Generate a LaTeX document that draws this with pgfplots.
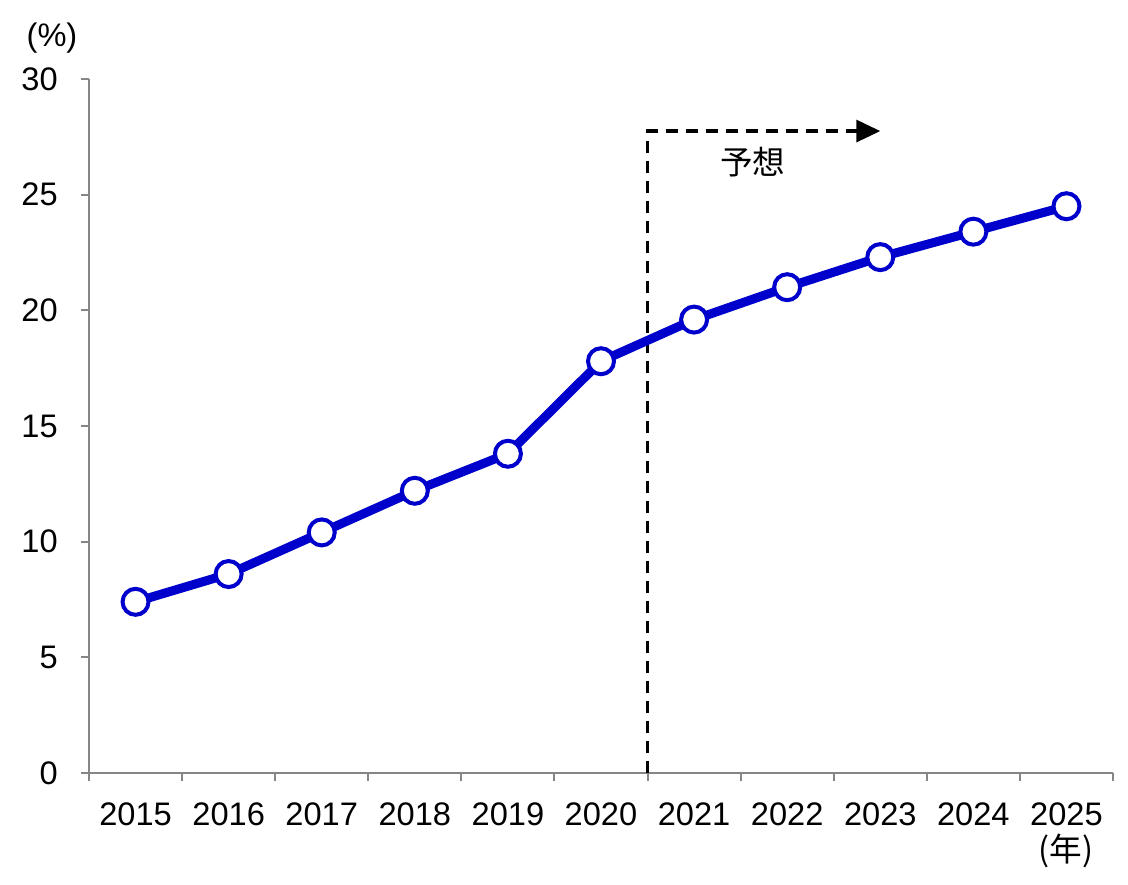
\documentclass[border=0pt]{standalone}
\usepackage{fontspec}
\setmainfont{Liberation Sans}
\newfontfamily\cjk{Noto Sans CJK JP}
\usepackage{pgfplots}
\pgfplotsset{compat=1.18}
\usetikzlibrary{arrows.meta}
\definecolor{lineblue}{RGB}{0,0,204}
\definecolor{axisgray}{RGB}{134,134,134}
\begin{document}
\fontsize{16.3}{19.5}\selectfont
\begin{tikzpicture}
\path[use as bounding box] (-44.5pt,-55.5pt) rectangle (519.5pt,386.5pt);
\begin{axis}[
  scale only axis, width=512pt, height=347pt,
  at={(0,0)}, anchor=south west,
  xmin=-0.5, xmax=10.5, ymin=0, ymax=30,
  axis x line*=bottom, axis y line*=left,
  axis line style={draw=axisgray, line width=1pt, -},
  xtick={0,...,10},
  xticklabels={2015,2016,2017,2018,2019,2020,2021,2022,2023,2024,2025},
  xtick style={draw=none},
  extra x ticks={-0.5,0.5,...,10.5},
  extra x tick labels={},
  extra x tick style={xtick style={draw=axisgray, line width=1pt}},
  ytick={0,5,...,30},
  ytick style={draw=axisgray, line width=1pt},
  tick align=outside, major tick length=4pt,
  /pgf/number format/assume math mode=true,
  ticklabel style={font=\fontsize{16.3}{19.5}\selectfont},
  yticklabel style={xshift=-6pt},
  xticklabel style={yshift=-5pt},
  clip=false,
]
\draw[black, line width=1.6pt, dash pattern=on 6pt off 4pt, -{Triangle[length=12pt,width=11pt]}]
  (axis cs:5.5,0) -- (axis cs:5.5,27.75) -- (axis cs:8.0,27.75);
\node at (axis cs:6.63,26.4) {\cjk 予想};
\addplot[color=lineblue, line width=4.5pt, mark=*, mark size=6.5pt,
  mark options={fill=white, draw=lineblue, line width=2pt}]
  coordinates {(0,7.4) (1,8.6) (2,10.4) (3,12.2) (4,13.8) (5,17.8)
               (6,19.6) (7,21.0) (8,22.3) (9,23.4) (10,24.5)};
\end{axis}
\node at (-18.5pt,367.5pt) {(\%)};
\node at (488.5pt,-39pt) {\cjk (年)};
\end{tikzpicture}
\end{document}
